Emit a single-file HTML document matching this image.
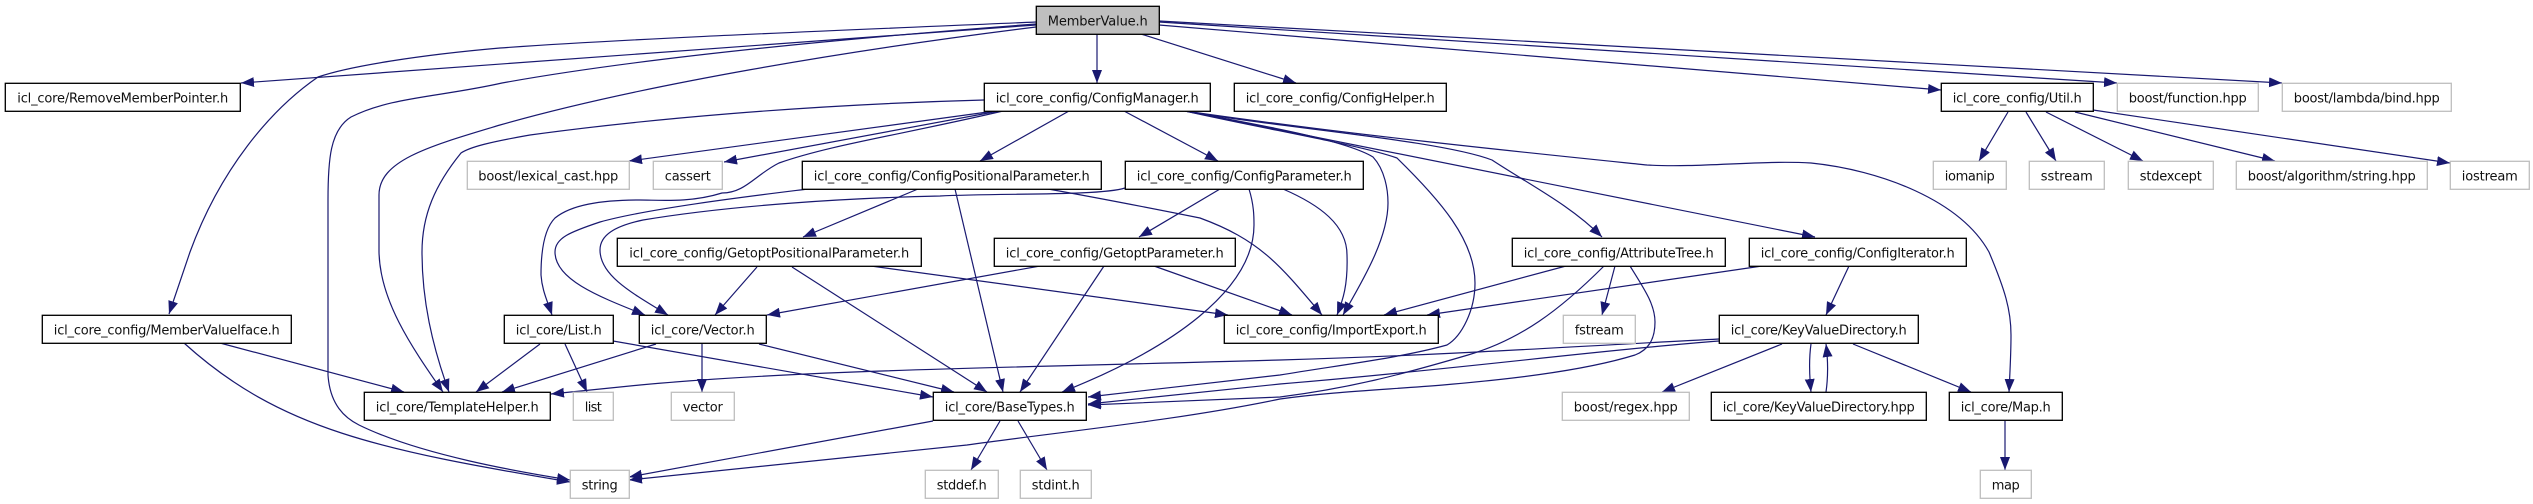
<!DOCTYPE html>
<html><head><meta charset="utf-8"><style>
html,body{margin:0;padding:0;background:#fff}
svg{display:block}
text{font-family:"DejaVu Sans","Liberation Sans",sans-serif;font-size:13px;fill:#111;text-anchor:middle}
.n{fill:#fff;stroke:#000;stroke-width:1.33}
.g{fill:#fff;stroke:#bfbfbf;stroke-width:1.33}
.r{fill:#bfbfbf;stroke:#000;stroke-width:1.33}
path.e{fill:none;stroke:#191970;stroke-width:1.2;marker-end:url(#a)}
</style></head><body>
<svg xmlns="http://www.w3.org/2000/svg" width="2533" height="504" viewBox="0 0 2533 504">
<defs><marker id="a" markerWidth="13" markerHeight="10" refX="13" refY="5" orient="auto" markerUnits="userSpaceOnUse"><path d="M0,0L13,5L0,10z" fill="#191970"/></marker></defs>
<rect width="2533" height="504" fill="#fff"/>
<!-- edges -->
<path class="e" d="M1036,25L241,83"/>
<path class="e" d="M1036,22C850,30 640,38 500,48C420,55 350,66 318,77C270,110 220,170 190,252L169,314"/>
<path class="e" d="M1036,24C850,38 640,58 502,83C440,97 390,97 351,117C330,130 328,160 328,200L328,375C330,405 345,418 359,425C420,455 520,472 570,480"/>
<path class="e" d="M1036,27C850,50 640,85 500,125C430,146 379,160 379,195L379,252C380,300 410,345 443,392"/>
<path class="e" d="M984,100C800,105 640,120 530,135C490,142 470,147 461,153C435,185 422,215 422,252C422,300 432,345 449,392"/>
<path class="e" d="M995,111L629,161"/>
<path class="e" d="M999,111L724,162"/>
<path class="e" d="M1003,111C900,135 830,145 779,163C755,175 745,193 722,193C690,203 660,200 640,200C600,200 571,205 555,218C543,230 541,255 541,275C542,290 547,300 552,315"/>
<path class="e" d="M808,189C760,195 650,208 600,222C570,232 555,238 555,252C555,280 600,297 645,315"/>
<path class="e" d="M1125,188C1100,196 1000,193 940,196C850,198 733,205 643,220C615,226 600,235 600,250C600,275 630,292 668,315"/>
<path class="e" d="M918,189L803,237"/>
<path class="e" d="M955,189L1003,392"/>
<path class="e" d="M1048,189C1110,200 1160,210 1200,218C1260,240 1280,265 1322,315"/>
<path class="e" d="M1069,111L980,161"/>
<path class="e" d="M1124,111L1218,161"/>
<path class="e" d="M1185,111C1260,125 1345,140 1373,157C1385,170 1388,190 1388,203C1388,240 1360,285 1343,315"/>
<path class="e" d="M1185,111C1270,130 1360,145 1397,158C1440,200 1475,240 1475,283C1475,310 1462,336 1447,345C1400,358 1340,365 1280,375L1088,397"/>
<path class="e" d="M1719,341C1600,350 1450,370 1280,384L1088,404"/>
<path class="e" d="M1719,339C1600,345 1450,355 1280,360C1000,368 800,370 640,385L551,394"/>
<path class="e" d="M1604,266C1560,310 1520,340 1468,355C1400,375 1350,388 1280,397L1088,405"/>
<path class="e" d="M1630,266C1645,290 1655,305 1655,322C1655,340 1648,350 1635,355C1580,372 1500,380 1443,385C1380,390 1330,392 1280,399C1180,420 1060,432 967,445L629,480"/>
<path class="e" d="M933,421L629,477"/>
<path class="e" d="M1566,266L1384,315"/>
<path class="e" d="M1615,266L1602,315"/>
<path class="e" d="M1762,266L1427,315"/>
<path class="e" d="M1849,266L1826,315"/>
<path class="e" d="M1185,111C1280,128 1440,140 1492,160C1530,185 1570,205 1602,237"/>
<path class="e" d="M1185,111L1815,237"/>
<path class="e" d="M1185,111C1350,135 1550,155 1647,165C1700,168 1760,160 1811,163C1880,170 1960,200 1989,252C2005,290 2011,310 2011,335C2011,355 2010,370 2009,392"/>
<path class="e" d="M1853,344L1971,392"/>
<path class="e" d="M1782,344L1662,392"/>
<path class="e" d="M1811,344C1809,358 1809,372 1811,392"/>
<path class="e" d="M1826,392C1828,378 1828,360 1826,344"/>
<path class="e" d="M1220,189L1139,237"/>
<path class="e" d="M1249,189C1254,205 1254,217 1254,225C1254,290 1171,349 1062,392"/>
<path class="e" d="M1283,189C1320,205 1347,225 1347,255C1348,285 1343,300 1337,315"/>
<path class="e" d="M757,267L715,315"/>
<path class="e" d="M792,267L987,392"/>
<path class="e" d="M871,266L1228,315"/>
<path class="e" d="M1040,266L767,315"/>
<path class="e" d="M1104,266L1020,392"/>
<path class="e" d="M1154,266L1292,315"/>
<path class="e" d="M702,343L702,392"/>
<path class="e" d="M656,344L502,392"/>
<path class="e" d="M759,344L954,392"/>
<path class="e" d="M540,344L476,392"/>
<path class="e" d="M565,344L587,392"/>
<path class="e" d="M613,341L933,397"/>
<path class="e" d="M1000,421L971,470"/>
<path class="e" d="M1018,421L1047,470"/>
<path class="e" d="M2005,421L2005,470"/>
<path class="e" d="M184,343C280,430 380,450 570,482"/>
<path class="e" d="M220,343L404,392"/>
<path class="e" d="M1097,34L1097,83"/>
<path class="e" d="M1141,34L1296,83"/>
<path class="e" d="M1159,25L1941,90"/>
<path class="e" d="M1159,22L2117,83"/>
<path class="e" d="M1159,21L2282,83"/>
<path class="e" d="M2008,112L1979,161"/>
<path class="e" d="M2026,112L2056,161"/>
<path class="e" d="M2046,112L2143,161"/>
<path class="e" d="M2075,112L2275,161"/>
<path class="e" d="M2093,110L2450,163"/>
<!-- nodes -->
<g transform="translate(0.3,0.3)">
<rect class="r" x="1036" y="6" width="123" height="28"/><text x="1097.5" y="25" textLength="100" lengthAdjust="spacing">MemberValue.h</text>
<rect class="n" x="5" y="83" width="235" height="28"/><text x="122.5" y="102" textLength="211" lengthAdjust="spacing">icl_core/RemoveMemberPointer.h</text>
<rect class="n" x="984" y="83" width="226" height="28"/><text x="1097" y="102" textLength="203" lengthAdjust="spacing">icl_core_config/ConfigManager.h</text>
<rect class="n" x="1234" y="83" width="212" height="28"/><text x="1340" y="102" textLength="189" lengthAdjust="spacing">icl_core_config/ConfigHelper.h</text>
<rect class="n" x="1941" y="83" width="152" height="28"/><text x="2017" y="102" textLength="129" lengthAdjust="spacing">icl_core_config/Util.h</text>
<rect class="g" x="2117" y="83" width="141" height="28"/><text x="2187.5" y="102" textLength="118" lengthAdjust="spacing">boost/function.hpp</text>
<rect class="g" x="2282" y="83" width="169" height="28"/><text x="2366.5" y="102" textLength="146" lengthAdjust="spacing">boost/lambda/bind.hpp</text>
<rect class="g" x="467" y="161" width="162" height="28"/><text x="548" y="180" textLength="140" lengthAdjust="spacing">boost/lexical_cast.hpp</text>
<rect class="g" x="653" y="161" width="69" height="28"/><text x="687.5" y="180" textLength="46" lengthAdjust="spacing">cassert</text>
<rect class="n" x="802" y="161" width="299" height="28"/><text x="951.5" y="180" textLength="276" lengthAdjust="spacing">icl_core_config/ConfigPositionalParameter.h</text>
<rect class="n" x="1125" y="161" width="238" height="28"/><text x="1244" y="180" textLength="215" lengthAdjust="spacing">icl_core_config/ConfigParameter.h</text>
<rect class="g" x="1933" y="161" width="73" height="28"/><text x="1969.5" y="180" textLength="50" lengthAdjust="spacing">iomanip</text>
<rect class="g" x="2029" y="161" width="75" height="28"/><text x="2066.5" y="180" textLength="52" lengthAdjust="spacing">sstream</text>
<rect class="g" x="2128" y="161" width="85" height="28"/><text x="2170.5" y="180" textLength="62" lengthAdjust="spacing">stdexcept</text>
<rect class="g" x="2236" y="161" width="191" height="28"/><text x="2331.5" y="180" textLength="168" lengthAdjust="spacing">boost/algorithm/string.hpp</text>
<rect class="g" x="2450" y="161" width="79" height="28"/><text x="2489.5" y="180" textLength="56" lengthAdjust="spacing">iostream</text>
<rect class="n" x="617" y="238" width="304" height="28"/><text x="769" y="257" textLength="280" lengthAdjust="spacing">icl_core_config/GetoptPositionalParameter.h</text>
<rect class="n" x="994" y="238" width="241" height="28"/><text x="1114.5" y="257" textLength="218" lengthAdjust="spacing">icl_core_config/GetoptParameter.h</text>
<rect class="n" x="1512" y="238" width="213" height="28"/><text x="1618.5" y="257" textLength="190" lengthAdjust="spacing">icl_core_config/AttributeTree.h</text>
<rect class="n" x="1749" y="238" width="217" height="28"/><text x="1857.5" y="257" textLength="194" lengthAdjust="spacing">icl_core_config/ConfigIterator.h</text>
<rect class="n" x="42" y="315" width="249" height="28"/><text x="166.5" y="334" textLength="226" lengthAdjust="spacing">icl_core_config/MemberValueIface.h</text>
<rect class="n" x="504" y="315" width="109" height="28"/><text x="558.5" y="334" textLength="86" lengthAdjust="spacing">icl_core/List.h</text>
<rect class="n" x="639" y="315" width="127" height="28"/><text x="702.5" y="334" textLength="104" lengthAdjust="spacing">icl_core/Vector.h</text>
<rect class="n" x="1224" y="315" width="214" height="28"/><text x="1331" y="334" textLength="191" lengthAdjust="spacing">icl_core_config/ImportExport.h</text>
<rect class="g" x="1563" y="315" width="72" height="28"/><text x="1599" y="334" textLength="49" lengthAdjust="spacing">fstream</text>
<rect class="n" x="1719" y="315" width="199" height="28"/><text x="1818.5" y="334" textLength="176" lengthAdjust="spacing">icl_core/KeyValueDirectory.h</text>
<rect class="n" x="364" y="392" width="186" height="28"/><text x="457" y="411" textLength="163" lengthAdjust="spacing">icl_core/TemplateHelper.h</text>
<rect class="g" x="573" y="392" width="40" height="28"/><text x="593" y="411" textLength="17" lengthAdjust="spacing">list</text>
<rect class="g" x="671" y="392" width="63" height="28"/><text x="702.5" y="411" textLength="40" lengthAdjust="spacing">vector</text>
<rect class="n" x="933" y="392" width="153" height="28"/><text x="1009.5" y="411" textLength="130" lengthAdjust="spacing">icl_core/BaseTypes.h</text>
<rect class="g" x="1562" y="392" width="127" height="28"/><text x="1625.5" y="411" textLength="104" lengthAdjust="spacing">boost/regex.hpp</text>
<rect class="n" x="1711" y="392" width="215" height="28"/><text x="1818.5" y="411" textLength="192" lengthAdjust="spacing">icl_core/KeyValueDirectory.hpp</text>
<rect class="n" x="1949" y="392" width="113" height="28"/><text x="2005.5" y="411" textLength="90" lengthAdjust="spacing">icl_core/Map.h</text>
<rect class="g" x="570" y="470" width="59" height="28"/><text x="599.5" y="489" textLength="36" lengthAdjust="spacing">string</text>
<rect class="g" x="925" y="470" width="73" height="28"/><text x="961.5" y="489" textLength="50" lengthAdjust="spacing">stddef.h</text>
<rect class="g" x="1020" y="470" width="71" height="28"/><text x="1055.5" y="489" textLength="48" lengthAdjust="spacing">stdint.h</text>
<rect class="g" x="1980" y="470" width="51" height="28"/><text x="2005.5" y="489" textLength="28" lengthAdjust="spacing">map</text>
</g>
</svg>
</body></html>
